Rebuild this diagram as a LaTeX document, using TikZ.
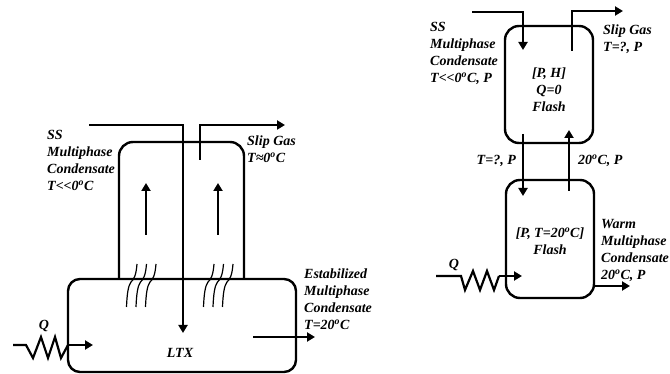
\documentclass[tikz,border=0pt]{standalone}
\usepackage{fontspec}
\setmainfont[Ligatures=NoCommon]{Liberation Serif}
\usetikzlibrary{arrows.meta}
\newcommand{\dg}{\textsuperscript{o}}
\tikzset{
  x=1pt,y=-1pt,
  vessel/.style={draw,line width=2.4pt,inner sep=0pt,rounded corners=14pt},
  pipe/.style={line width=2.2pt},
  flow/.style={line width=2.2pt,-{Triangle[length=8pt,width=9pt]}},
  tube/.style={line width=1.2pt},
  lbl/.style={font=\fontsize{14}{17}\selectfont\bfseries\itshape,align=left,anchor=north west,inner sep=0pt},
  clbl/.style={font=\fontsize{14}{17}\selectfont\bfseries\itshape,align=center,inner sep=0pt},
}
\begin{document}
\begin{tikzpicture}
\useasboundingbox (0,0) rectangle (670,374);
% left unit
\draw[vessel] (119,279) coordinate (ua) -- (119,142) -- (244,142) -- (244,279) coordinate (ub);
\draw[vessel,rounded corners=12pt] (68,279) rectangle (296,372);
\coordinate (inA) at (89,125); \coordinate (inB) at (183,125); \coordinate (inC) at (183,333);
\draw[flow,rounded corners=0pt] (inA) -- (inB) -- (inC);
\coordinate (outA) at (200,160); \coordinate (outB) at (200,125); \coordinate (outC) at (285,125);
\draw[flow] (outA) -- (outB) -- (outC);
\coordinate (r1a) at (146,235); \coordinate (r1b) at (146,183);
\coordinate (r2a) at (218,235); \coordinate (r2b) at (218,183);
\draw[flow] (r1a) -- (r1b);
\draw[flow] (r2a) -- (r2b);
\foreach \xx in {137,146.5,156,214,223.5,233}{
  \draw[tube] (\xx,264) .. controls (\xx-1,276) and (\xx-3,279) .. (\xx-6,282)
     .. controls (\xx-9,286) and (\xx-10,295) .. (\xx-10.5,307);
}
\coordinate (qa) at (13,345); \coordinate (qb) at (93,345);
\draw[pipe,line join=miter] (qa) -- (26,345) -- (33,358) -- (41,337) -- (48,358) -- (55,337) -- (61,358) -- (68,345);
\draw[flow] (68,345) -- (qb);
\coordinate (oa) at (253,337); \coordinate (ob) at (315,337);
\draw[flow] (oa) -- (ob);
\node[lbl] (t1) at (47,130) {SS\\Multiphase\\Condensate\\T{<}{<}0\dg C};
\node[lbl] (t2) at (247,136) {Slip Gas\\T≈0\dg C};
\node[lbl] (t3) at (304,269) {Estabilized\\Multiphase\\Condensate\\T=20\dg C};
\node[clbl] (t4) at (44,326) {Q};
\node[clbl] (t5) at (180,353) {LTX};
% right unit
\draw[vessel] (505,26) rectangle (593,143);
\draw[vessel] (506,180) rectangle (594,298);
\coordinate (ra) at (472,12); \coordinate (rb) at (523,12); \coordinate (rc) at (523,50);
\draw[flow] (ra) -- (rb) -- (rc);
\coordinate (sa) at (572,51); \coordinate (sb) at (572,11); \coordinate (sc) at (623,11);
\draw[flow] (sa) -- (sb) -- (sc);
\coordinate (da) at (523,134); \coordinate (db) at (523,196);
\draw[flow] (da) -- (db);
\coordinate (ea) at (569,191); \coordinate (eb) at (569,130);
\draw[flow] (ea) -- (eb);
\coordinate (qc) at (436,276); \coordinate (qd) at (522,276);
\draw[pipe] (qc) -- (461,276) -- (465,290) -- (473,271) -- (480,290) -- (487,271) -- (494,290) -- (499,276);
\draw[flow] (499,276) -- (qd);
\coordinate (wa) at (594,286); \coordinate (wb) at (630,286);
\draw[flow] (wa) -- (wb);
\node[lbl] (u1) at (430,22.5) {SS\\Multiphase\\Condensate\\T{<}{<}0\dg C, P};
\node[lbl] (u2) at (603,25) {Slip Gas\\T=?, P};
\node[clbl,align=center] (u3) at (549,90) {[P, H]\\Q=0\\Flash};
\node[clbl,anchor=east] (u4) at (516,161) {T=?, P};
\node[clbl,anchor=west] (u5) at (578,161) {20\dg C, P};
\node[clbl] (u6) at (550,241) {[P, T=20\dg C]\\Flash};
\node[lbl] (u7) at (601,219) {Warm\\Multiphase\\Condensate\\20\dg C, P};
\node[clbl] (u8) at (454,265) {Q};
\end{tikzpicture}
\end{document}
